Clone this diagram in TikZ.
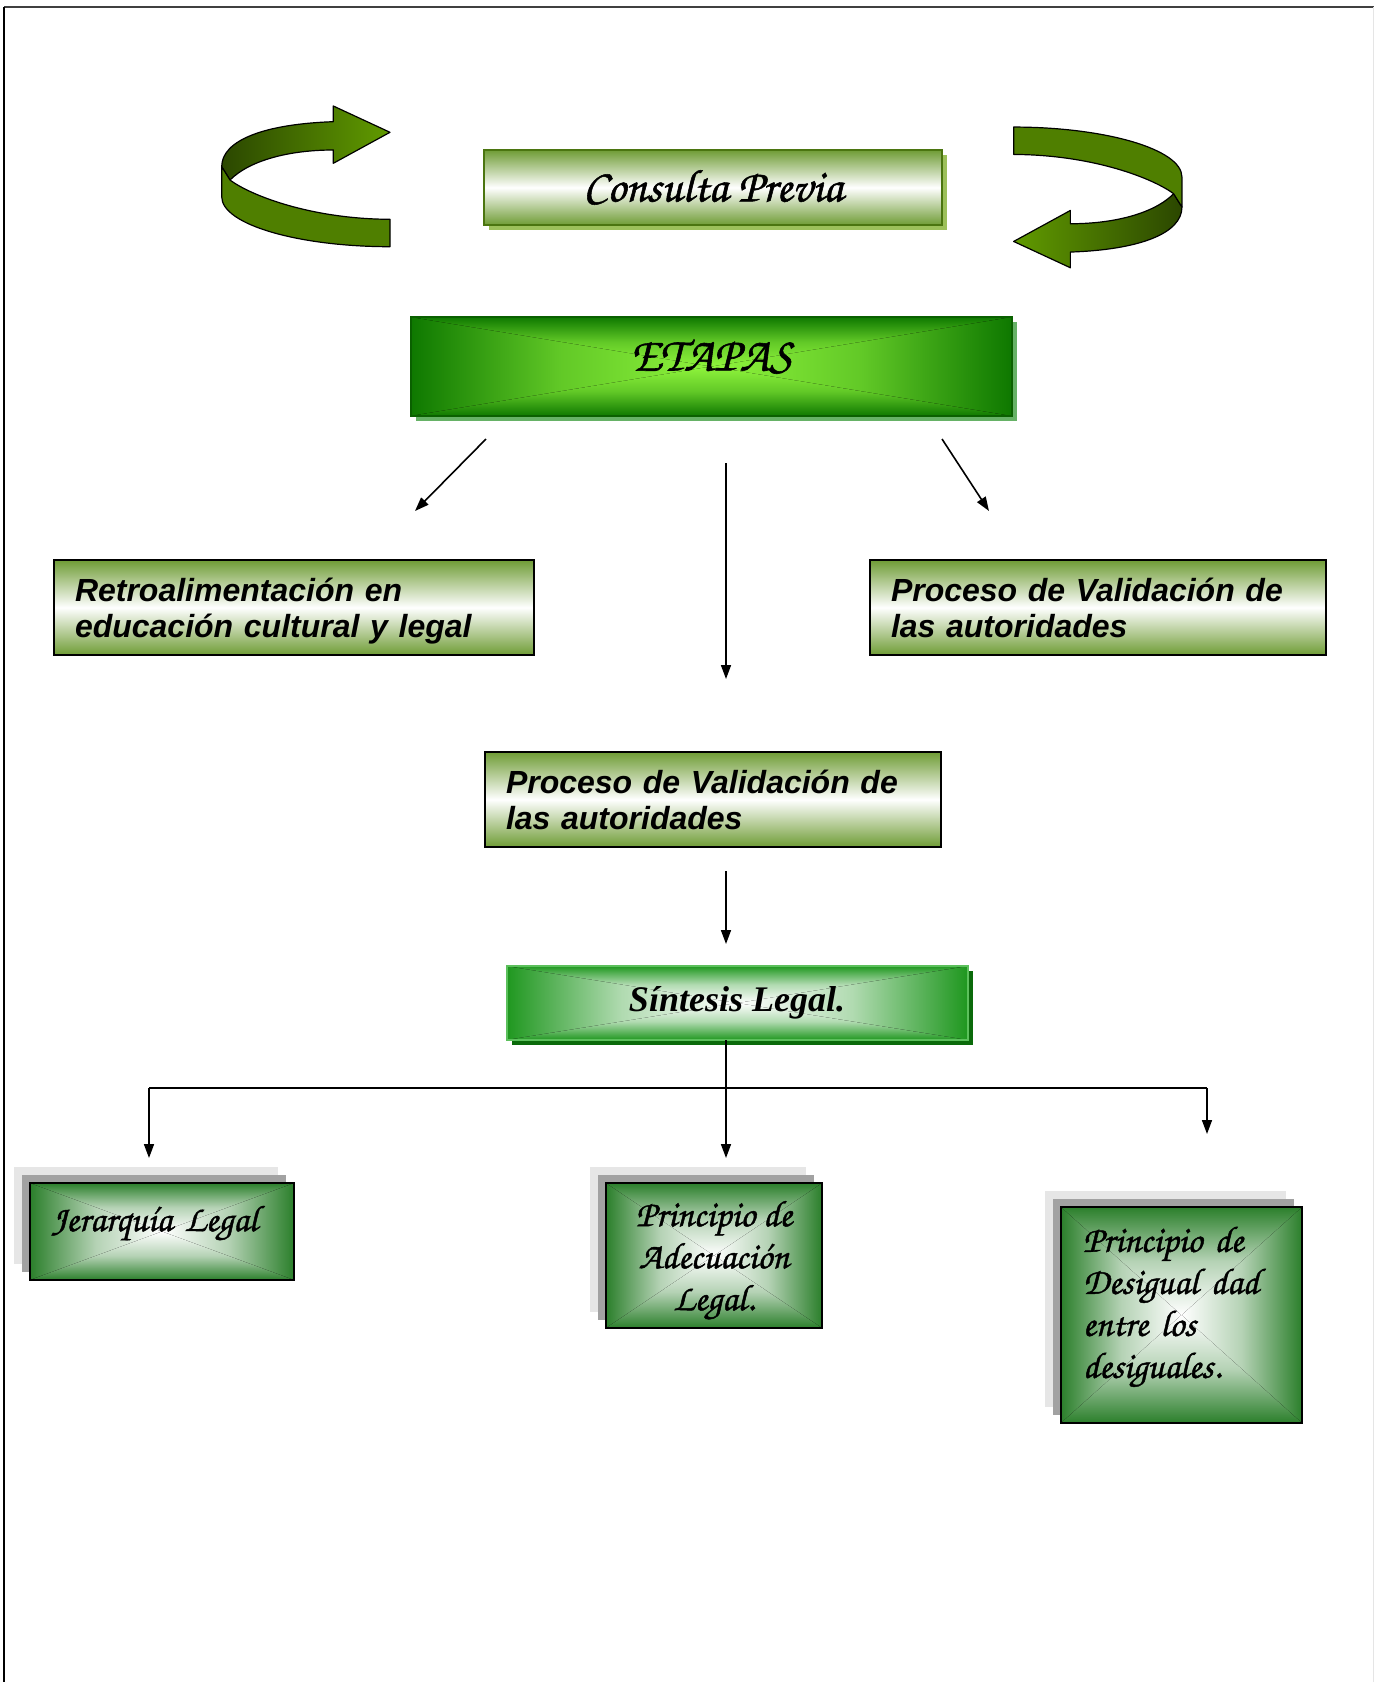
\documentclass[tikz,border=0pt]{standalone}
\usepackage{fontspec}
\usepackage{tikz}
\usetikzlibrary{arrows.meta,positioning,backgrounds}
\newfontfamily\sansbi{Liberation Sans}
\newfontfamily\serifbi{Liberation Serif}
\newfontfamily\chorus{texgyrechorus-mediumitalic.otf}[FakeBold=1.2]
\definecolor{ribbonlight}{HTML}{619B00}
\definecolor{ribbonmid}{HTML}{4F7F00}
\definecolor{ribbondark}{HTML}{2B4700}
\definecolor{olivegreen}{HTML}{6F9C35}
\definecolor{oliveline}{HTML}{4B7510}
\definecolor{oliveshadow}{HTML}{9CC05A}
\definecolor{etapasdark}{HTML}{0E7800}
\definecolor{etapaslight}{HTML}{8FF43C}
\definecolor{etapasline}{HTML}{0A6000}
\definecolor{etapasshadow}{HTML}{66B266}
\definecolor{sintgreen}{HTML}{1F971F}
\definecolor{sintlight}{HTML}{5CC05C}
\definecolor{sintshadow}{HTML}{0A6A0A}
\definecolor{boxgreen}{HTML}{2B7F2B}
\definecolor{shadowfar}{HTML}{E6E6E6}
\definecolor{shadownear}{HTML}{A2A2A2}

% rectangular glow: edge colour #2, centre colour #3
\newcommand\pyramidfill[3]{%
  \fill[left color=#2, right color=#3, middle color=#2!35!#3] (#1.south west) rectangle (#1.north);
  \fill[left color=#3, right color=#2, middle color=#2!35!#3] (#1.south) rectangle (#1.north east);
  \fill[top color=#2, bottom color=#3, middle color=#2!35!#3] (#1.north west) -- (#1.center) -- (#1.north east) -- cycle;
  \fill[top color=#3, bottom color=#2, middle color=#2!35!#3] (#1.south west) -- (#1.center) -- (#1.south east) -- cycle;}

\begin{document}
\begin{tikzpicture}[
  x=0.5pt, y=-0.5pt,
  box/.style={
    draw,
    line width=1pt,
    inner sep=0pt,
    outer sep=0pt,
    align=center
  },
  olivebox/.style={
    box,
    top color=olivegreen,
    bottom color=olivegreen,
    middle color=white
  },
  consultabox/.style={
    olivebox,
    draw=oliveline,
    minimum width=229pt,
    minimum height=37.5pt,
    font=\chorus\fontsize{23}{26}\selectfont
  },
  etapasbox/.style={
    box,
    draw=etapasline,
    minimum width=300.5pt,
    minimum height=49.5pt,
    text height=16pt,
    text depth=12pt,
    font=\chorus\fontsize{24}{28}\selectfont
  },
  stagebox/.style={
    olivebox,
    draw=black,
    minimum height=47.5pt,
    inner xsep=10.5pt,
    align=left,
    text height=14.5pt,
    text depth=20.5pt,
    font=\sansbi\bfseries\itshape\fontsize{16}{18}\selectfont
  },
  sintbox/.style={
    box,
    draw=sintlight,
    minimum width=230.5pt,
    minimum height=37pt,
    font=\serifbi\bfseries\itshape\fontsize{18}{22}\selectfont
  },
  leafbox/.style={
    box,
    draw=black,
    font=\chorus\fontsize{18.5}{21}\selectfont
  },
  ribbon/.style={draw=black, line width=0.6pt, line join=round},
  arrow/.style={-{Triangle[length=7pt,width=5pt]}, line width=0.8pt},
  link/.style={line width=0.8pt}
]
  \useasboundingbox (0,0) rectangle (1374,1682);

  % page frame
  \draw[line width=1pt, black!75] (4,7) -- (1374,7);
  \draw[line width=0.7pt] (4,7) -- (4,1682);
  \draw[line width=0.5pt, black!10] (1373,7) -- (1373,1682);

  \node[consultabox] (consulta) at (713,187.5) {Consulta Previa};
  \node[etapasbox, below=46pt of consulta, xshift=-1pt] (etapas) {ETAPAS};

  \node[stagebox, text width=219pt] (retro) at (294,607.5)
    {Retroalimentación en\\educación cultural y legal};
  \node[stagebox, text width=207pt] (proc1) at (1098,607.5)
    {Proceso de Validación de\\las autoridades};
  \node[stagebox, text width=207pt, below=168pt of etapas, xshift=1pt] (proc2)
    {Proceso de Validación de\\las autoridades};

  \node[sintbox, below=59.5pt of proc2, xshift=12pt] (sintesis) {Síntesis Legal.};

  \node[leafbox, minimum width=132pt, minimum height=48.5pt, text width=110.5pt,
    inner xsep=10.75pt, align=left, text depth=13pt]
    (jerarquia) at (162,1231.5) {Jerarquía Legal};
  \node[leafbox, minimum width=108pt, minimum height=72.5pt, text height=59.3pt, text depth=4.6pt]
    (adecuacion) at (714,1255.5) {Principio de\\Adecuación\\Legal.};
  \node[leafbox, minimum width=120.5pt, minimum height=108pt, text width=98.5pt,
    inner xsep=11pt, align=left, text height=13pt, text depth=76.2pt]
    (desigualdad) at (1181.5,1315) {Principio de\\Desigual dad\\entre los\\desiguales.};

  % ribbon arrows
  \draw[ribbon, left color=ribbondark, right color=ribbonlight]
    (333.3,150) .. controls (290,150) and (250,160) .. (230,180)
    -- (221.7,166.7) .. controls (221.7,140) and (265,124) .. (333.3,121.7)
    -- (333.3,106) -- (390,132.3) -- (333.3,163.3) -- cycle;
  \draw[ribbon, fill=ribbonmid]
    (221.7,166.7) -- (221.7,196.7) .. controls (221.7,225) and (300,246.7) .. (390,246.7)
    -- (390,219.3) .. controls (310,219) and (250,195) .. (230,180) -- cycle;

  \draw[ribbon, left color=ribbonlight, right color=ribbondark]
    (1070.35,223.75) .. controls (1113.65,223.75) and (1153.65,213.75) .. (1173.65,193.75)
    -- (1181.95,207.05) .. controls (1181.95,233.75) and (1138.65,249.75) .. (1070.35,252.05)
    -- (1070.35,267.75) -- (1013.65,241.45) -- (1070.35,210.45) -- cycle;
  \draw[ribbon, fill=ribbonmid]
    (1181.95,207.05) -- (1181.95,177.05) .. controls (1181.95,148.75) and (1103.65,127.05) .. (1013.65,127.05)
    -- (1013.65,154.45) .. controls (1093.65,154.75) and (1153.65,178.75) .. (1173.65,193.75) -- cycle;

  % connectors
  \coordinate (axis) at (726,0);
  \coordinate (splitL) at (486,439);
  \coordinate (tipL) at (415,511);
  \coordinate (splitR) at (942,439);
  \coordinate (tipR) at (989,511);
  \coordinate (busL) at (149,1088);
  \coordinate (busR) at (1207,1088);

  \draw[arrow] (splitL) -- (tipL);
  \draw[arrow] (splitR) -- (tipR);
  \draw[arrow, shorten <=23.5pt, shorten >=36.5pt] (etapas.south -| axis) -- (proc2.north -| axis);
  \draw[arrow, shorten <=12pt, shorten >=11pt] (proc2.south -| axis) -- (sintesis.north -| axis);
  \draw[link] (busL) -- (busR);
  \draw[arrow, shorten >=12.5pt] (sintesis.south -| axis) -- (adecuacion.north -| axis);
  \draw[arrow, shorten >=12.5pt] (busL) -- (busL |- jerarquia.north);
  \draw[arrow, shorten >=36.5pt] (busR) -- (busR |- desigualdad.north);

  \begin{scope}[on background layer]
    \fill[oliveshadow] ([shift={(5,5)}]consulta.south west) rectangle ([shift={(5,5)}]consulta.north east);
    \fill[etapasshadow] ([shift={(5,5)}]etapas.south west) rectangle ([shift={(5,5)}]etapas.north east);
    \pyramidfill{etapas}{etapasdark}{etapaslight}
    \fill[sintshadow] ([shift={(5,5)}]sintesis.south west) rectangle ([shift={(5,5)}]sintesis.north east);
    \pyramidfill{sintesis}{sintgreen}{white}
    \foreach \leaf in {jerarquia,adecuacion,desigualdad}{
      \fill[shadowfar] ([shift={(-16,-16)}]\leaf.south west) rectangle ([shift={(-16,-16)}]\leaf.north east);
      \fill[shadownear] ([shift={(-8,-8)}]\leaf.south west) rectangle ([shift={(-8,-8)}]\leaf.north east);
      \pyramidfill{\leaf}{boxgreen}{white}
    }
  \end{scope}
\end{tikzpicture}
\end{document}
